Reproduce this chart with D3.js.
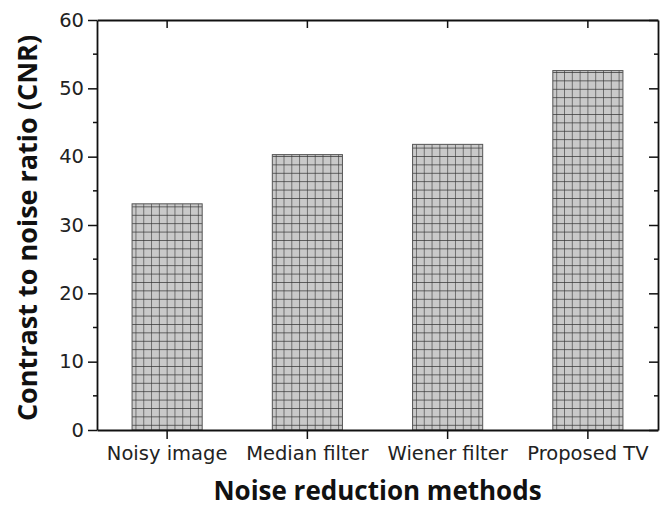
<!DOCTYPE html>
<html>
<head>
<meta charset="utf-8">
<script src="https://cdn.jsdelivr.net/npm/d3@7"></script>
<style>
  body { margin: 0; background: #fff; }
  svg { display: block; font-family: "Open Sans", "Noto Sans", sans-serif; }
</style>
</head>
<body>
<script>
var methods = ["Noisy image", "Median filter", "Wiener filter", "Proposed TV"];
var cnrValues = [33.1, 40.3, 41.8, 52.6];
var yTicks = [0, 10, 20, 30, 40, 50, 60];

var width = 669, height = 508;
var margin = {left: 97, right: 11, top: 20, bottom: 78};
var plotW = width - margin.left - margin.right;
var plotH = height - margin.top - margin.bottom;

var svg = d3.select("body").append("svg")
  .attr("width", width)
  .attr("height", height);

var x = d3.scaleBand().domain(methods).range([0, plotW])
  .paddingInner(0.5).paddingOuter(0.25);
var y = d3.scaleLinear().domain([0, 60]).range([plotH, 0]);

var data = methods.map(function(m, i) { return {name: m, value: cnrValues[i]}; });

// crosshatch fill, one pattern per bar so the grid starts at the bar edge
var defs = svg.append("defs");
var cellW = 7.8, cellH = 8.4;
var pat = defs.selectAll("pattern")
  .data(data)
  .enter()
  .append("pattern")
  .attr("id", function(d, i) { return "hatch" + i; })
  .attr("patternUnits", "userSpaceOnUse")
  .attr("x", function(d) { return margin.left + x(d.name); })
  .attr("y", margin.top + plotH)
  .attr("width", cellW)
  .attr("height", cellH);
pat.append("rect")
  .attr("width", cellW).attr("height", cellH)
  .attr("fill", "#c9c9c9");
pat.append("path")
  .attr("d", "M0,0 V" + cellH + " M0,0 H" + cellW)
  .attr("stroke", "#333")
  .attr("stroke-width", 1.2)
  .attr("fill", "none");

var g = svg.append("g").attr("transform", "translate(" + margin.left + "," + margin.top + ")");

g.selectAll("rect.bar")
  .data(data)
  .enter()
  .append("rect")
  .attr("class", "bar")
  .attr("x", function(d) { return x(d.name); })
  .attr("y", function(d) { return y(d.value); })
  .attr("width", x.bandwidth())
  .attr("height", function(d) { return plotH - y(d.value); })
  .attr("fill", function(d, i) { return "url(#hatch" + i + ")"; })
  .attr("stroke", "#555")
  .attr("stroke-width", 1);

// axes
var minorTicks = d3.range(5, 60, 10);

var left = g.append("g").attr("class", "axis")
  .call(d3.axisLeft(y).tickValues(yTicks).tickSize(9).tickSizeOuter(0).tickPadding(4));
left.append("g").selectAll("line")
  .data(minorTicks).enter().append("line")
  .attr("x1", 0).attr("x2", -4)
  .attr("y1", function(d) { return y(d); })
  .attr("y2", function(d) { return y(d); });

var right = g.append("g").attr("class", "axis")
  .attr("transform", "translate(" + plotW + ",0)")
  .call(d3.axisLeft(y).tickValues(yTicks).tickSize(9).tickSizeOuter(0).tickFormat(""));
right.append("g").selectAll("line")
  .data(minorTicks).enter().append("line")
  .attr("x1", 0).attr("x2", -4)
  .attr("y1", function(d) { return y(d); })
  .attr("y2", function(d) { return y(d); });

g.append("g").attr("class", "axis")
  .attr("transform", "translate(0," + plotH + ")")
  .call(d3.axisBottom(x).tickSize(9).tickSizeOuter(0).tickPadding(7));

g.append("g").attr("class", "axis")
  .call(d3.axisBottom(x).tickSize(8).tickSizeOuter(0).tickFormat(""));

g.selectAll(".axis path")
  .attr("stroke", "#111")
  .attr("stroke-width", 1.8);
g.selectAll(".axis line")
  .attr("stroke", "#111")
  .attr("stroke-width", 1.5);
g.selectAll(".axis text")
  .attr("font-size", "19.5px")
  .attr("font-family", "'DejaVu Sans', sans-serif")
  .attr("fill", "#222");

// titles
svg.append("text")
  .attr("x", margin.left + plotW / 2)
  .attr("y", 500)
  .attr("text-anchor", "middle")
  .attr("font-size", "26px")
  .attr("font-weight", "bold")
  .attr("fill", "#111")
  .text("Noise reduction methods");

svg.append("text")
  .attr("transform", "translate(37," + (margin.top + plotH / 2 + 3) + ") rotate(-90)")
  .attr("text-anchor", "middle")
  .attr("font-size", "27px")
  .attr("font-weight", "bold")
  .attr("fill", "#111")
  .text("Contrast to noise ratio (CNR)");
</script>
</body>
</html>
